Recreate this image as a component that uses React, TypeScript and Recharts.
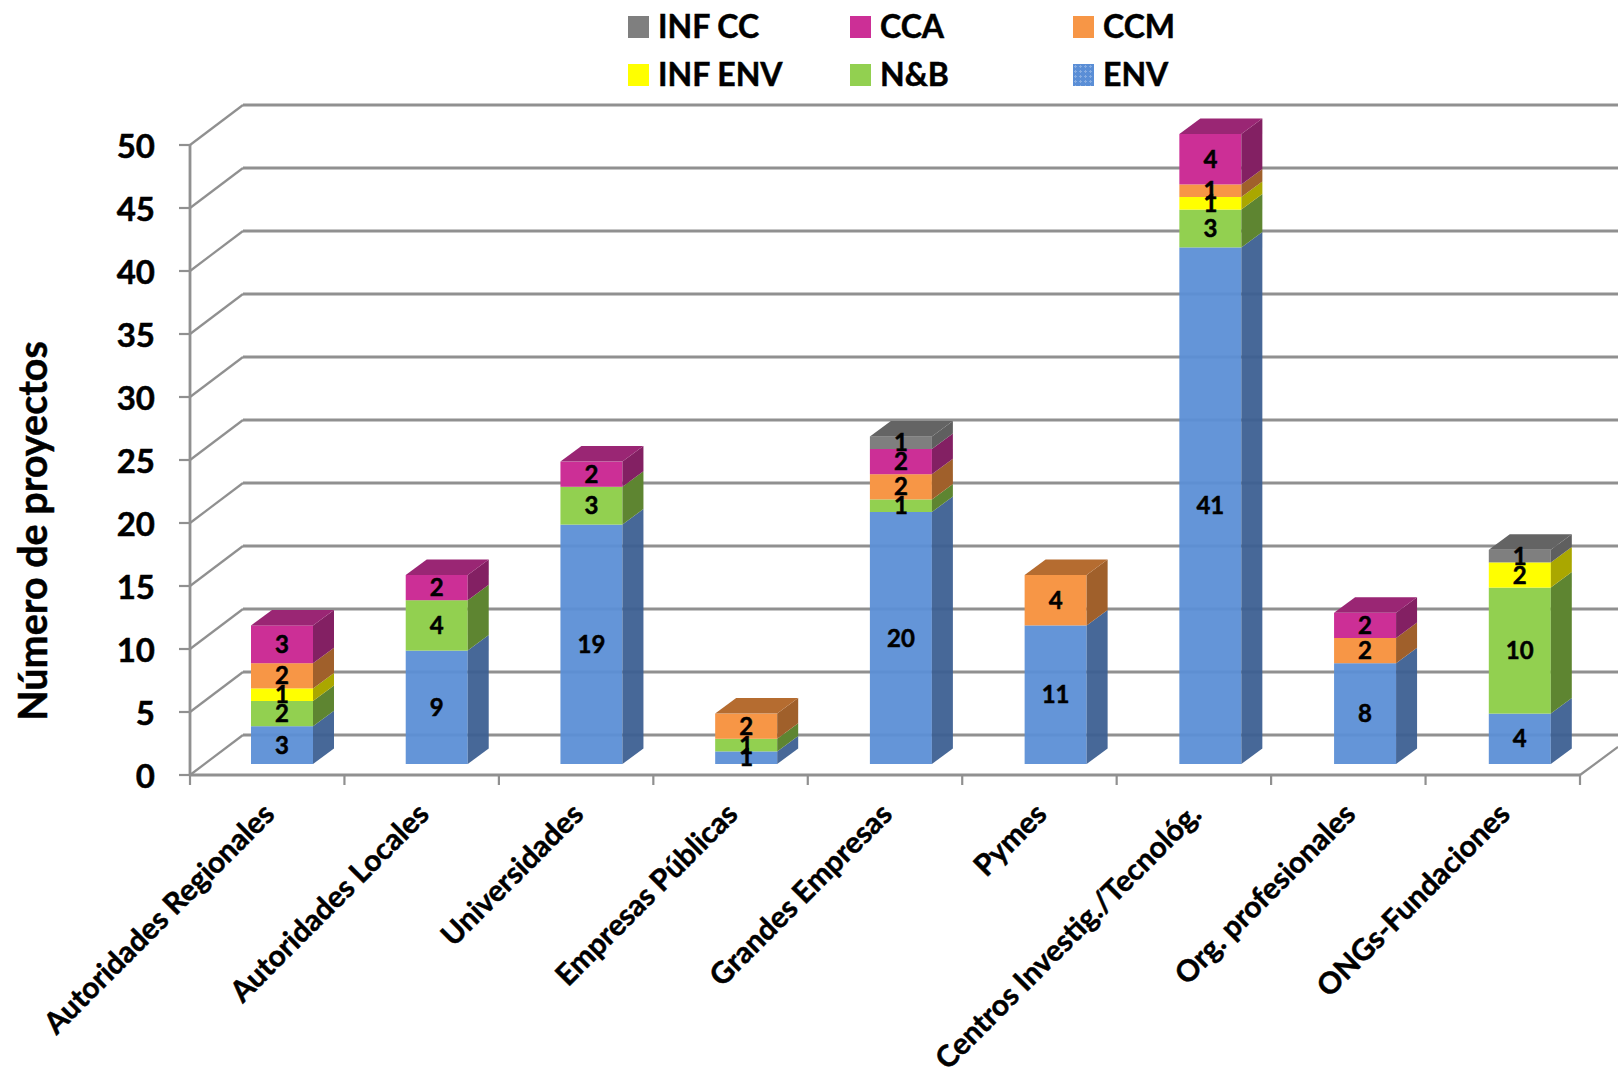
import React from "react";
import { BarChart, Bar, XAxis, YAxis, Legend, LabelList, Label, CartesianGrid } from "recharts";

const categories = ["Autoridades Regionales", "Autoridades Locales", "Universidades", "Empresas Públicas", "Grandes Empresas", "Pymes", "Centros Investig./Tecnológ.", "Org. profesionales", "ONGs-Fundaciones"];
const env = [3, 9, 19, 1, 20, 11, 41, 8, 4];
const nb = [2, 4, 3, 1, 1, 0, 3, 0, 10];
const infEnv = [1, 0, 0, 0, 0, 0, 1, 0, 2];
const ccm = [2, 0, 0, 2, 2, 4, 1, 2, 0];
const cca = [3, 2, 2, 0, 2, 0, 4, 2, 0];
const infCc = [0, 0, 0, 0, 1, 0, 0, 0, 1];
const yTicks = [0, 5, 10, 15, 20, 25, 30, 35, 40, 45, 50];

const data = categories.map((name, i) => ({ name, ENV: env[i], "N&B": nb[i], "INF ENV": infEnv[i], CCM: ccm[i], CCA: cca[i], "INF CC": infCc[i] }));

const seriesList = [
  { key: "ENV", front: "#5A8ED6", side: "#3B5F92", top: "#3B5F92", alpha: 0.94 },
  { key: "N&B", front: "#92D050", side: "#5E8531", top: "#5E8531", alpha: 1 },
  { key: "INF ENV", front: "#FFFF00", side: "#AAA700", top: "#AAA700", alpha: 1 },
  { key: "CCM", front: "#F79646", side: "#A0602B", top: "#B56C30", alpha: 1 },
  { key: "CCA", front: "#CC2F96", side: "#832063", top: "#9A2674", alpha: 1 },
  { key: "INF CC", front: "#7F7F7F", side: "#5F5F5F", top: "#646464", alpha: 1 },
];
const legendOrder = ["INF CC", "CCA", "CCM", "INF ENV", "N&B", "ENV"];

const FONT = "Lato, sans-serif";
const GRID = "#909090";
const AXIS_X = 190;
const FLOOR_Y = 775;
const RIGHT = 1580;
const WIDTH = 1618;
const BACK_DX = 53;
const BACK_DY = 40;
const FRONT_DX = 15;
const FRONT_DY = 11;
const DRIFT = 0.28;
const SIDE_DX = 21;
const SIDE_DY = 15.5;
const BAND = (RIGHT - AXIS_X) / categories.length;
const heavy = { stroke: "#000", strokeWidth: 0.5 };

const makeShape = (si: number) => (props: any) => {
  const { x, y, width, height, payload, index } = props;
  const s = seriesList[si];
  if (!height || height <= 0) return <g />;
  const isTop = seriesList.slice(si + 1).every((o) => !payload[o.key]);
  const fx = x + FRONT_DX + index * DRIFT;
  const fy = y - FRONT_DY;
  const r = fx + width;
  return (
    <g fillOpacity={s.alpha}>
      <rect x={fx} y={fy} width={width} height={height} fill={s.front} />
      <polygon points={`${r},${fy} ${r + SIDE_DX},${fy - SIDE_DY} ${r + SIDE_DX},${fy + height - SIDE_DY} ${r},${fy + height}`} fill={s.side} />
      {isTop && <polygon points={`${fx},${fy} ${fx + SIDE_DX},${fy - SIDE_DY} ${r + SIDE_DX},${fy - SIDE_DY} ${r},${fy}`} fill={s.top} />}
    </g>
  );
};

const renderValue = (props: any) => {
  const { x, y, width, height, value, index } = props;
  if (!value) return null;
  return (
    <text x={x + FRONT_DX + index * DRIFT + width / 2} y={y - FRONT_DY + height / 2 + 8.5} textAnchor="middle" fontFamily={FONT} fontWeight={700} fontSize={24} fill="#000" {...heavy}>
      {value}
    </text>
  );
};

const gridLine = (props: any) => {
  const y = props.y1;
  return (
    <g key={`g-${y}`}>
      <line x1={AXIS_X} y1={y} x2={AXIS_X + BACK_DX} y2={y - BACK_DY} stroke={GRID} strokeWidth={2.2} />
      <line x1={AXIS_X + BACK_DX} y1={y - BACK_DY} x2={WIDTH} y2={y - BACK_DY} stroke={GRID} strokeWidth={2.8} />
    </g>
  );
};

const YTick = (props: any) => {
  const { x, y, payload } = props;
  return (
    <g>
      <line x1={AXIS_X - 11} y1={y} x2={AXIS_X} y2={y} stroke={GRID} strokeWidth={2.2} />
      <text x={x} y={y + 12.5} textAnchor="end" fontFamily={FONT} fontWeight={700} fontSize={33} fill="#000" {...heavy}>
        {payload.value}
      </text>
    </g>
  );
};

const XTick = (props: any) => {
  const { x, y, payload, index } = props;
  const left = x - BAND / 2;
  const tx = x + 9;
  const ty = y + 33;
  return (
    <g>
      <line x1={left} y1={FLOOR_Y} x2={left} y2={FLOOR_Y + 10} stroke={GRID} strokeWidth={2.2} />
      {index === categories.length - 1 && (
        <g>
          <line x1={left + BAND} y1={FLOOR_Y} x2={left + BAND} y2={FLOOR_Y + 10} stroke={GRID} strokeWidth={2.2} />
          <line x1={left + BAND} y1={FLOOR_Y} x2={WIDTH} y2={FLOOR_Y - 28} stroke={GRID} strokeWidth={2.2} />
        </g>
      )}
      <text x={tx} y={ty} textAnchor="end" transform={`rotate(-45 ${tx} ${ty})`} fontFamily={FONT} fontWeight={700} fontSize={29.7} fill="#000" {...heavy}>
        {payload.value}
      </text>
    </g>
  );
};

const legendCols = [628, 850, 1073];
const legendRows = [16, 64];
const envTexture = "radial-gradient(circle, rgba(255,255,255,0.28) 1px, transparent 1.4px)";

const renderLegend = (props: any) => {
  const payload = props.payload || [];
  return (
    <div style={{ position: "absolute", left: 0, top: 0, width: 0, height: 0 }}>
      {legendOrder.map((name, i) => {
        const item = payload.find((p: any) => p.value === name || p.dataKey === name);
        const left = legendCols[i % 3];
        const top = legendRows[Math.floor(i / 3)];
        const color = item ? item.color : "#000";
        return (
          <div key={name}>
            <div style={{ position: "absolute", left, top, width: 21, height: 22, backgroundColor: color, backgroundImage: name === "ENV" ? envTexture : undefined, backgroundSize: "5px 5px" }} />
            <div style={{ position: "absolute", left: left + 30, top: top - 11, fontFamily: FONT, fontWeight: 700, fontSize: 32, lineHeight: "42px", color: "#000", whiteSpace: "nowrap", WebkitTextStroke: "0.5px #000" }}>
              {name}
            </div>
          </div>
        );
      })}
    </div>
  );
};

export default function App() {
  return (
    <div style={{ position: "absolute", left: 0, top: 0, width: WIDTH, height: 1074, background: "#fff", overflow: "hidden" }}>
      <BarChart width={WIDTH} height={1074} data={data} margin={{ top: 145, right: 38, bottom: 0, left: 0 }} barSize={62}>
        <CartesianGrid vertical={false} horizontal={gridLine} syncWithTicks />
        <Legend content={renderLegend} verticalAlign="top" wrapperStyle={{ position: "absolute", left: 0, top: 0, width: 0, height: 0 }} />
        <YAxis
          type="number"
          domain={[0, 50]}
          ticks={yTicks}
          interval={0}
          width={190}
          tick={YTick}
          tickLine={false}
          tickSize={11}
          tickMargin={24}
          axisLine={{ stroke: GRID, strokeWidth: 2.8 }}
        >
          <Label value="Número de proyectos" angle={-90} position="insideLeft" offset={0} content={(p: any) => (
            <text x={47} y={531} textAnchor="middle" transform="rotate(-90 47 531)" fontFamily={FONT} fontWeight={700} fontSize={39.5} fill="#000" {...heavy}>Número de proyectos</text>
          )} />
        </YAxis>
        <XAxis dataKey="name" type="category" height={299} interval={0} tick={XTick} tickLine={false} axisLine={{ stroke: GRID, strokeWidth: 2.8 }} />
        {seriesList.map((s, i) => (
          <Bar key={s.key} dataKey={s.key} stackId="a" fill={s.front} shape={makeShape(i)} isAnimationActive={false}>
            <LabelList dataKey={s.key} content={renderValue} />
          </Bar>
        ))}
      </BarChart>
    </div>
  );
}
